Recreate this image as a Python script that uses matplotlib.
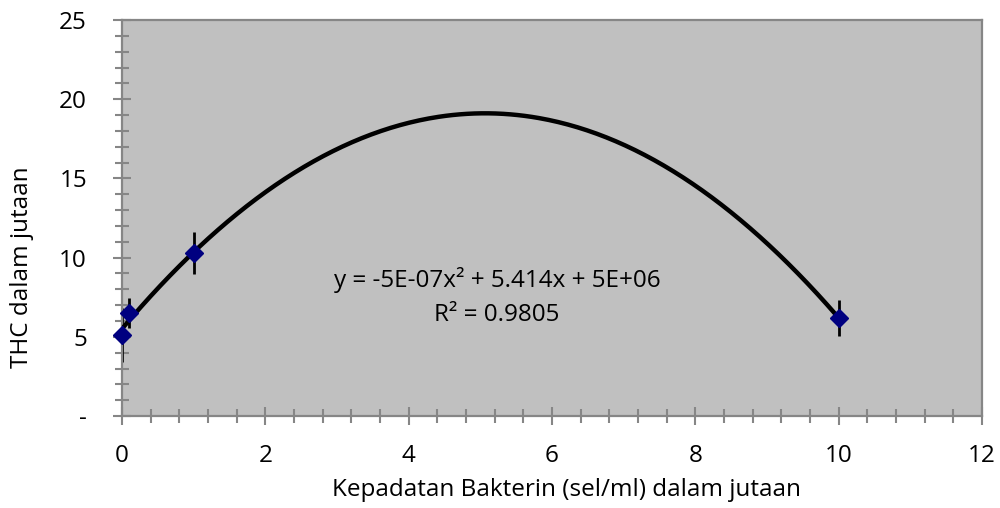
import numpy as np
import matplotlib.pyplot as plt
from matplotlib.ticker import MultipleLocator, FixedLocator

plt.rcParams['font.family'] = ['Open Sans', 'DejaVu Sans']

# data (dalam jutaan)
kepadatan = [0.0, 0.1, 1.0, 10.0]
thc = [5.1, 6.5, 10.3, 6.2]
thc_err = [1.7, 0.95, 1.35, 1.15]

persamaan = 'y = -5E-07x² + 5.414x + 5E+06'
r_kuadrat = 'R² = 0.9805'

# trendline polinomial orde 2
koef = np.polyfit(kepadatan, thc, 2)
xs = np.linspace(min(kepadatan), max(kepadatan), 300)
ys = np.polyval(koef, xs)

fig = plt.figure(figsize=(10, 5.08), dpi=100)
ax = fig.add_axes([0.122, 0.181, 0.860, 0.7795])
ax.set_facecolor('#C0C0C0')

ax.plot(xs, ys, color='black', lw=3.2, zorder=3)
ax.errorbar(kepadatan, thc, yerr=thc_err, fmt='none', ecolor='black',
            elinewidth=2, capsize=0, zorder=2, clip_on=False)
ax.plot(kepadatan, thc, 'D', color='#000080', ms=9.5, zorder=4, clip_on=False)

ax.set_xlim(0, 12)
ax.set_ylim(0, 25)
ax.xaxis.set_major_locator(MultipleLocator(2))
ax.xaxis.set_minor_locator(MultipleLocator(0.4))
ax.yaxis.set_major_locator(FixedLocator([0, 5, 10, 15, 20, 25]))
ax.yaxis.set_minor_locator(MultipleLocator(1))
ax.set_yticklabels(['-', '5', '10', '15', '20', '25'])

for s in ax.spines.values():
    s.set_color('#868686')
    s.set_linewidth(1.6)
ax.tick_params(which='major', direction='inout', length=12.5, width=1.5,
               color='#868686', labelsize=17.5)
ax.tick_params(which='minor', direction='inout', length=9.5, width=1.5,
               color='#868686')
ax.tick_params(axis='x', which='major', pad=14)
ax.tick_params(axis='y', which='major', pad=19)

ax.text(5.23, 8.6, persamaan, ha='center', va='center', fontsize=17.5)
ax.text(5.23, 6.4, r_kuadrat, ha='center', va='center', fontsize=17.5)

ax.set_xlabel('Kepadatan Bakterin (sel/ml) dalam jutaan', fontsize=17.5)
ax.set_ylabel('THC dalam jutaan', fontsize=17.5)
ax.xaxis.set_label_coords(0.517, -0.187)
ax.yaxis.set_label_coords(-0.116, 0.376)
ax.xaxis.label.set_va('center')
ax.yaxis.label.set_va('center')

fig.savefig('out.png', dpi=100)
